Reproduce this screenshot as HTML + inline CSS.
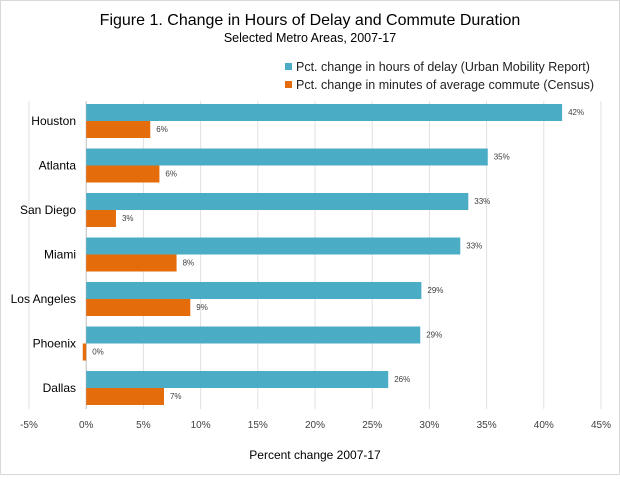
<!DOCTYPE html>
<html><head><meta charset="utf-8"><style>
body{margin:0;background:#fff;font-family:"Liberation Sans",sans-serif;}
#wrap{position:relative;width:618px;height:473px;border:1px solid #d9d9d9;}
</style></head><body>
<div id="wrap">
<svg id="chart" width="618" height="473"></svg>
</div>
<script>
const categories=["Houston","Atlanta","San Diego","Miami","Los Angeles","Phoenix","Dallas"];
const delayValues=[41.6,35.1,33.4,32.7,29.3,29.2,26.4];
const commuteValues=[5.6,6.4,2.6,7.9,9.1,-0.3,6.8];
const delayLabels=["42%","35%","33%","33%","29%","29%","26%"];
const commuteLabels=["6%","6%","3%","8%","9%","0%","7%"];
const ticks=[-5,0,5,10,15,20,25,30,35,40,45];
const NS="http://www.w3.org/2000/svg";
const svg=document.getElementById('chart');
const x0=28,x1=600,xmin=-5,xmax=45;
const X=v=>x0+(v-xmin)/(xmax-xmin)*(x1-x0);
const top0=103,step=44.5,bh=17;
function el(t,a,txt){const e=document.createElementNS(NS,t);for(const k in a)e.setAttribute(k,a[k]);if(txt!=null)e.textContent=txt;svg.appendChild(e);return e;}
let e;
e=el('text',{x:309,y:24,'text-anchor':'middle','font-size':16,fill:'#000'},'Figure 1. Change in Hours of Delay and Commute Duration');

e=el('text',{x:309,y:41,'text-anchor':'middle','font-size':12.5,fill:'#000'},'Selected Metro Areas, 2007-17');

// legend
e=el('rect',{x:284,y:62,width:7,height:7,fill:'#4bacc6'});
e=el('text',{x:295,y:70,'font-size':12.5,fill:'#222'},'Pct. change in hours of delay (Urban Mobility Report)');
e=el('rect',{x:284,y:80,width:7,height:7,fill:'#e46c0a'});
e=el('text',{x:295,y:88,'font-size':12.5,fill:'#222'},'Pct. change in minutes of average commute (Census)');
// grid & ticks
ticks.forEach(t=>{
  e=el('line',{x1:X(t),x2:X(t),y1:100,y2:408,stroke:t===0?'#bfbfbf':'#e0e0e0','stroke-width':1});
  
  e=el('text',{x:X(t),y:427,'text-anchor':'middle','font-size':10,fill:'#404040'},t+'%');
  
});
categories.forEach((c,i)=>{
  const y=top0+i*step;
  e=el('text',{x:75,y:y+bh+4,'text-anchor':'end','font-size':12,fill:'#000'},c);
  
  const d=delayValues[i];
  e=el('rect',{x:Math.min(X(0),X(d)),y:y,width:Math.abs(X(d)-X(0)),height:bh,fill:'#4bacc6'});
  
  e=el('text',{x:Math.max(X(d),X(0))+6,y:y+11,'font-size':8,fill:'#404040'},delayLabels[i]);
  
  const m=commuteValues[i];
  e=el('rect',{x:Math.min(X(0),X(m)),y:y+bh,width:Math.abs(X(m)-X(0)),height:bh,fill:'#e46c0a'});
  
  e=el('text',{x:Math.max(X(m),X(0))+6,y:y+bh+11,'font-size':8,fill:'#404040'},commuteLabels[i]);
  
});
e=el('text',{x:314,y:458,'text-anchor':'middle','font-size':12,fill:'#000'},'Percent change 2007-17');

</script>
</body></html>
